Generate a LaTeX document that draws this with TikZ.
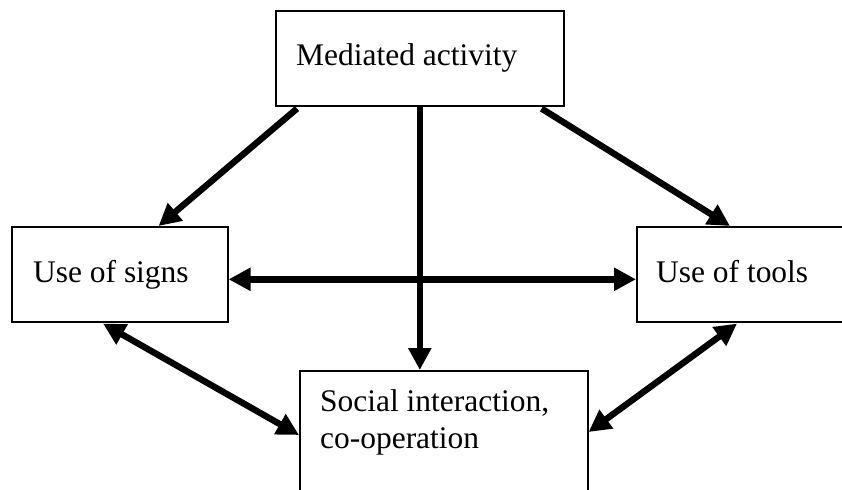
\documentclass[tikz,border=0pt]{standalone}
\usepackage{fontspec}
\setmainfont{Liberation Serif}
\usetikzlibrary{arrows.meta,calc}
\begin{document}
\begin{tikzpicture}[x=0.75pt, y=-0.75pt, font=\fontsize{23.6}{27.75}\selectfont, >={Triangle[length=16.5pt,width=16.5pt]},
    box/.style={draw, line width=1.2pt, anchor=north west, align=flush left, inner ysep=0pt},
    link/.style={line width=4.8pt}]
    \path[use as bounding box, clip] (0,0) rectangle (842,489);
    \node[box, inner xsep=15.25pt, text width=185.5pt, text height=41.25pt, text depth=30pt] (act) at (275,10) {Mediated activity};
			\node[box, inner xsep=16pt, text width=130pt, text height=42pt, text depth=29.25pt] (signs) at (11,226) {Use of signs};
			\node[box, inner xsep=14.5pt, text width=133pt, text height=42pt, text depth=29.25pt] (tools) at (636,226) {Use of tools};
			\node[box, inner xsep=15.25pt, text width=185.5pt, text height=30.75pt, text depth=75pt] (social) at (299,370) {Social interaction,\\co-operation};
			\draw[link,->] ($(act.south west)+(22,2)$)--($(signs.north east)+(-70,0)$);
			\draw[link,->] ($(act.south east)+(-23,2)$)--($(tools.north west)+(94,0)$);
			\draw[link,->] (act.south)--(act.south |- social.north);
			\draw[link,<->] ($(signs.east)+(0,5)$)--($(tools.west)+(0,5)$);
			\draw[link,<->] ($(signs.south west)+(92,1)$)--($(social.north west)+(0,65)$);
			\draw[link,<->] ($(tools.south west)+(101,1)$)--($(social.north east)+(0,62)$);
    \end{tikzpicture}
\end{document}
